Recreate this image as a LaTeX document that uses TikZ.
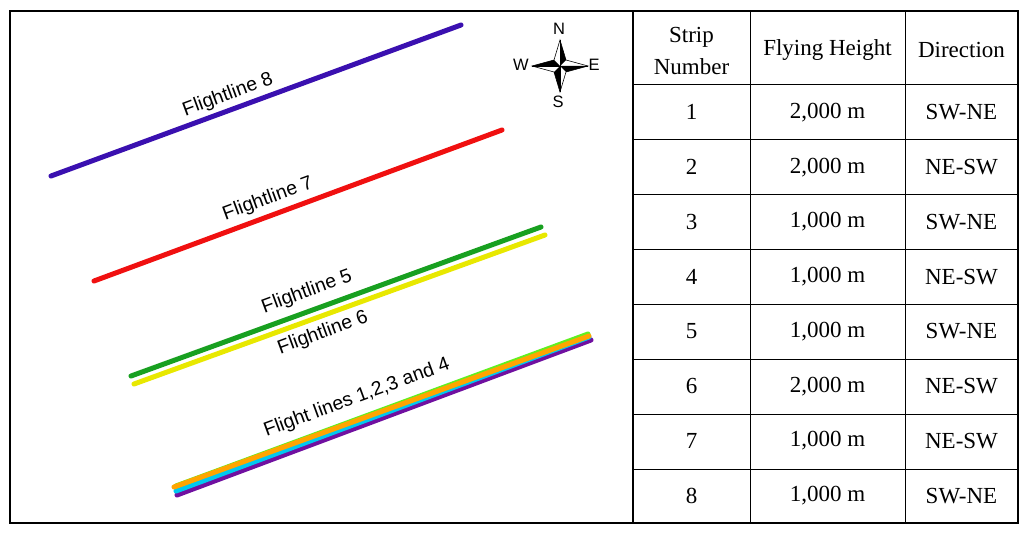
\documentclass[tikz,border=0pt]{standalone}
\usepackage{fontspec}
\setmainfont{Liberation Serif}
\newfontfamily\sans{Liberation Sans}
\begin{document}
\begin{tikzpicture}[x=1pt,y=-1pt,
  fl/.style={line width=5pt,line cap=round},
  lab/.style={font=\sans\fontsize{19.5}{22}\selectfont,rotate=20.2,inner sep=0pt},
  cell/.style={font=\fontsize{23}{32}\selectfont,align=center},
  cp/.style={font=\sans\fontsize{16.5}{18}\selectfont,inner sep=0pt}]
\useasboundingbox (0,0) rectangle (1024,534);
\draw[line width=2pt] (10,11) rectangle (1018,523);
\draw[line width=2pt] (633,11) -- (633,523);
\foreach \x in {750,905} \draw[line width=1pt] (\x,11) -- (\x,523);
\foreach \y in {85,140,195,250,304,359,414,469} \draw[line width=1pt] (633,\y) -- (1018,\y);
\node[cell] (h1) at (691.5,51) {Strip\\Number};
\node[cell] (h2) at (827.5,50) {Flying Height};
\node[cell] (h3) at (961.5,50) {Direction};
\foreach \n/\h/\d [count=\i] in {1/{2,000 m}/SW-NE,2/{2,000 m}/NE-SW,3/{1,000 m}/SW-NE,4/{1,000 m}/NE-SW,5/{1,000 m}/SW-NE,6/{2,000 m}/NE-SW,7/{1,000 m}/NE-SW,8/{1,000 m}/SW-NE}{
  \pgfmathsetmacro\yy{85+54.75*(\i-1)+27.4}
  \node[cell] (n\i) at (691.5,\yy) {\n};
  \node[cell] (f\i) at (827.5,\yy) {\h};
  \node[cell] (d\i) at (961.5,\yy) {\d};
}
\definecolor{c8}{HTML}{3A10B0}
\definecolor{c7}{HTML}{F01010}
\definecolor{c5}{HTML}{18A020}
\definecolor{c6}{HTML}{E8E800}
\definecolor{c1}{HTML}{60F020}
\definecolor{c2}{HTML}{FFA500}
\definecolor{c3}{HTML}{00C8F0}
\definecolor{c4}{HTML}{7010A0}
\draw[fl,c8] (51,176) -- (461,25);
\draw[fl,c7] (94,281) -- (502,130);
\draw[fl,c5] (131,376) -- (541,227);
\draw[fl,c6] (134,384) -- (545,235);
\draw[fl,c4] (177,495) -- (591,340);
\draw[fl,c3] (176,491) -- (589,337);
\draw[fl,c1] (176,486) -- (588,334);
\draw[fl,c2] (174,487) -- (589,336);
\node[lab] (l8) at (228,95) {Flightline 8};
\node[lab] (l7) at (268,199) {Flightline 7};
\node[lab] (l5) at (307,292) {Flightline 5};
\node[lab] (l6) at (323,333) {Flightline 6};
\node[lab] (l1) at (357,398) {Flight lines 1,2,3 and 4};
% compass
\coordinate (c) at (560,66);
\fill (560,40) -- (566,60) -- (c) -- cycle;
\fill (588,66) -- (566,72) -- (c) -- cycle;
\fill (560,92) -- (554,72) -- (c) -- cycle;
\fill (532,66) -- (554,60) -- (c) -- cycle;
\draw[line width=0.6pt,line join=miter] (560,40) -- (566,60) -- (588,66) -- (566,72) -- (560,92) -- (554,72) -- (532,66) -- (554,60) -- cycle;
\draw[line width=0.5pt] (560,40) -- (560,92) (532,66) -- (588,66);
\node[cp] (N) at (559,29) {N};
\node[cp] (S) at (558,102) {S};
\node[cp] (W) at (521,65) {W};
\node[cp] (E) at (594,65) {E};
\end{tikzpicture}
\end{document}
